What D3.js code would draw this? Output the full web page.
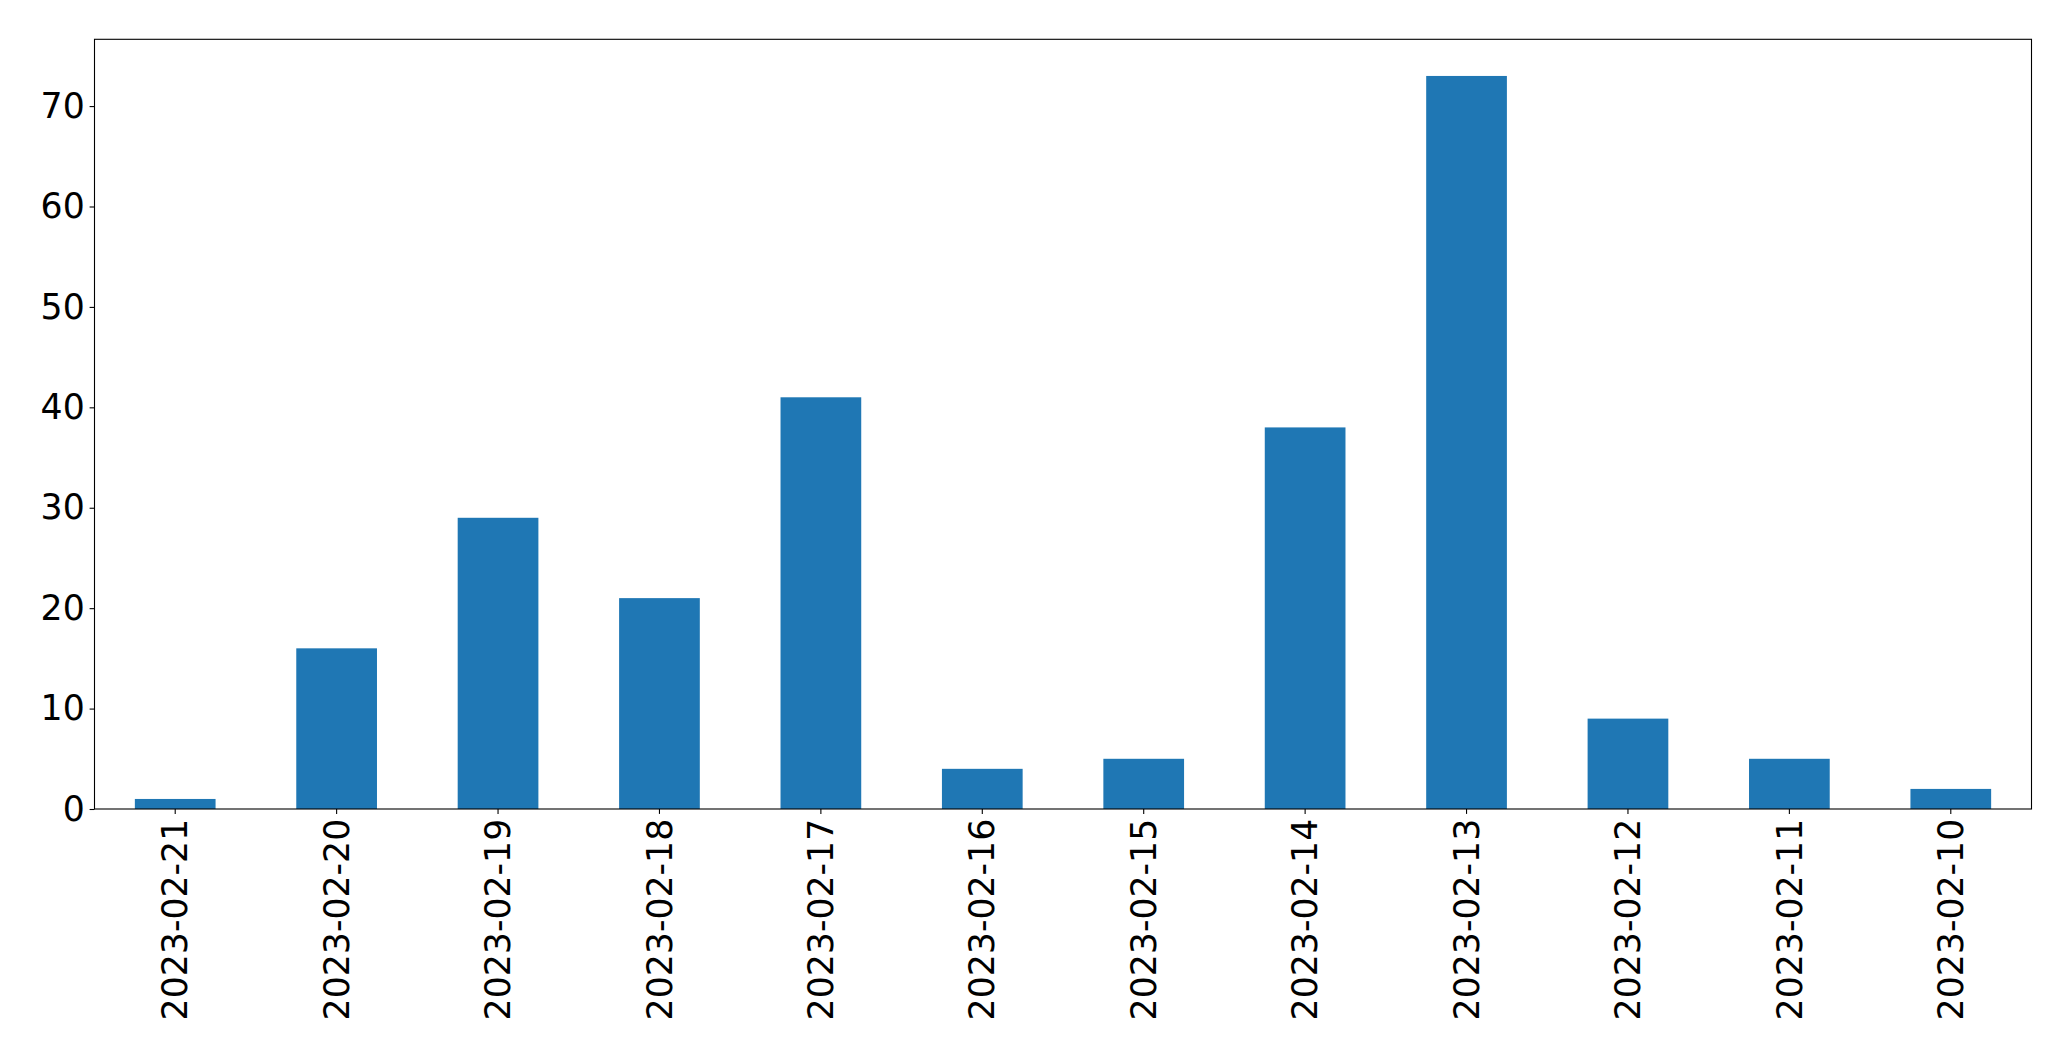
<!DOCTYPE html>
<html>
<head>
<meta charset="utf-8">
<script src="https://cdn.jsdelivr.net/npm/d3@7"></script>
<style>
  html, body { margin: 0; padding: 0; background: #fff; }
  svg { display: block; }
  text { font-family: "DejaVu Sans", sans-serif; }
</style>
</head>
<body>
<svg id="chart" width="2071" height="1061"></svg>
<script>
const categories = ["2023-02-21","2023-02-20","2023-02-19","2023-02-18","2023-02-17","2023-02-16","2023-02-15","2023-02-14","2023-02-13","2023-02-12","2023-02-11","2023-02-10"];
const values = [1,16,29,21,41,4,5,38,73,9,5,2];
const yTicks = [0,10,20,30,40,50,60,70];

(function () {
const plotLeft = 94.5, plotRight = 2031.5, plotTop = 39.3, plotBottom = 809;
const fontSize = 34.7;
const tickLen = 4.9, tickPad = 4.9;

const svg = d3.select("#chart");

const x = d3.scaleBand().domain(categories).range([plotLeft, plotRight]).paddingInner(0.5).paddingOuter(0.25);
const yMax = d3.max(values) * 1.05;
const y = d3.scaleLinear().domain([0, yMax]).range([plotBottom, plotTop]);

// bars
svg.append("g").selectAll("rect").data(values).join("rect")
  .attr("x", (d, i) => x(categories[i]))
  .attr("y", d => y(d))
  .attr("width", x.bandwidth())
  .attr("height", d => y(0) - y(d))
  .attr("fill", "#1f77b4");

// y axis
const yAxis = d3.axisLeft(y).tickValues(yTicks).tickFormat(d3.format("d")).tickSize(tickLen).tickPadding(tickPad);
const gy = svg.append("g").attr("transform", `translate(${plotLeft},0)`).call(yAxis);
gy.select(".domain").remove();
gy.selectAll(".tick line").attr("stroke", "#000").attr("stroke-width", 1.1);
gy.selectAll(".tick text").attr("font-size", fontSize).attr("font-family", "DejaVu Sans, sans-serif").attr("fill", "#000");

// x axis
const xAxis = d3.axisBottom(x).tickSize(tickLen).tickPadding(tickPad);
const gx = svg.append("g").attr("transform", `translate(0,${plotBottom})`).call(xAxis);
gx.select(".domain").remove();
gx.selectAll(".tick line").attr("stroke", "#000").attr("stroke-width", 1.1);
gx.selectAll(".tick text")
  .attr("font-size", fontSize)
  .attr("font-family", "DejaVu Sans, sans-serif")
  .attr("fill", "#000")
  .attr("text-anchor", "end")
  .attr("transform", "rotate(-90)")
  .attr("x", -(tickLen + tickPad))
  .attr("y", 0)
  .attr("dy", "0.35em");

// frame (spines)
svg.append("rect")
  .attr("x", plotLeft).attr("y", plotTop)
  .attr("width", plotRight - plotLeft).attr("height", plotBottom - plotTop)
  .attr("fill", "none").attr("stroke", "#000").attr("stroke-width", 1.1);
})();
</script>
</body>
</html>
